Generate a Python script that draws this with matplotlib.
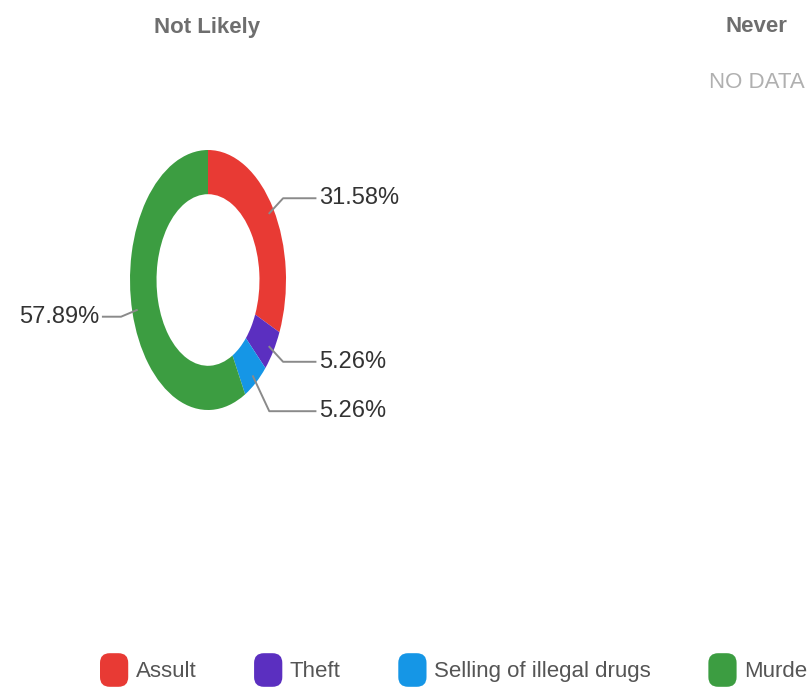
import numpy as np
import matplotlib
matplotlib.use("Agg")
import matplotlib.pyplot as plt
from matplotlib.patches import Patch, FancyBboxPatch
from matplotlib.legend_handler import HandlerPatch

# data
categories = ["Assult", "Theft", "Selling of illegal drugs", "Murder"]
percent = [31.58, 5.26, 5.26, 57.89]
colors = ["#e83a34", "#5b2fc0", "#1596e6", "#3c9d41"]
panel_titles = ["Not Likely", "Never"]

plt.rcParams['font.family'] = ['Liberation Sans', 'DejaVu Sans']

W, H = 808, 700
fig = plt.figure(figsize=(W/100, H/100), dpi=100)

# donut centre (px) and radii (px) -> chart is squeezed sideways
cx, cy, rx, ry = 208, 280, 78, 130
left_px, right_px, top_px, bot_px = 0, 420, 130, 460
ax = fig.add_axes([left_px/W, 1-bot_px/H, (right_px-left_px)/W, (bot_px-top_px)/H])

wedges, _ = ax.pie(percent, colors=colors, startangle=90, counterclock=False,
                   radius=1, wedgeprops=dict(width=0.34, linewidth=0))
# pie resets limits and aspect, so set them afterwards
ax.set_xlim((left_px-cx)/rx, (right_px-cx)/rx)
ax.set_ylim((cy-bot_px)/ry, (cy-top_px)/ry)
ax.set_aspect('auto')
ax.axis('off')

# label positions
mids = []
for w in wedges:
    mids.append(np.deg2rad((w.theta1 + w.theta2) / 2))
ly = [1.15*np.sin(a) for a in mids]
# push apart the labels on the right side
right = [i for i in range(len(mids)) if np.cos(mids[i]) > 0]
right.sort(key=lambda i: -ly[i])
for k in range(1, len(right)):
    a, b = right[k-1], right[k]
    if ly[a] - ly[b] < 0.38:
        ly[b] = ly[a] - 0.38

for i, a in enumerate(mids):
    s = 1 if np.cos(a) > 0 else -1
    x0, y0 = 0.93*np.cos(a), 0.93*np.sin(a)
    r = ly[i] / np.sin(a)
    xe = r*np.cos(a)
    xt = 1.39 if s > 0 else -1.36
    ax.plot([x0, xe, xt], [y0, ly[i], ly[i]], color="#8a8a8a", lw=1.4,
            solid_capstyle='butt', clip_on=False)
    ax.text(xt + s*0.03, ly[i], "{:.2f}%".format(percent[i]),
            ha='left' if s > 0 else 'right', va='center',
            fontsize=17, color="#333333")

# panel titles
fig.text(207/W, 1-27/H, panel_titles[0], ha='center', va='center',
         fontsize=16, fontweight='bold', color="#6e6e6e")
fig.text(756/W, 1-27/H, panel_titles[1], ha='center', va='center',
         fontsize=16, fontweight='bold', color="#6e6e6e")
fig.text(757/W, 1-82/H, "NO DATA", ha='center', va='center',
         fontsize=16, color="#b0b0b0")


# legend with rounded markers
def rounded(legend, orig_handle, xdescent, ydescent, width, height, fontsize):
    return FancyBboxPatch((-xdescent, -ydescent), width, height,
                          boxstyle="round,pad=0,rounding_size=7")


handles = [Patch(facecolor=c, edgecolor='none') for c in colors]
fig.legend(handles, categories, loc='center left',
           bbox_to_anchor=(100/W, 1-670/H), ncol=4, frameon=False,
           fontsize=16, handlelength=1.27, handleheight=1.95,
           handletextpad=0.33, columnspacing=2.6, borderpad=0, borderaxespad=0,
           labelcolor="#555555",
           handler_map={Patch: HandlerPatch(patch_func=rounded)})

fig.savefig("out.png", dpi=100, facecolor='white')
